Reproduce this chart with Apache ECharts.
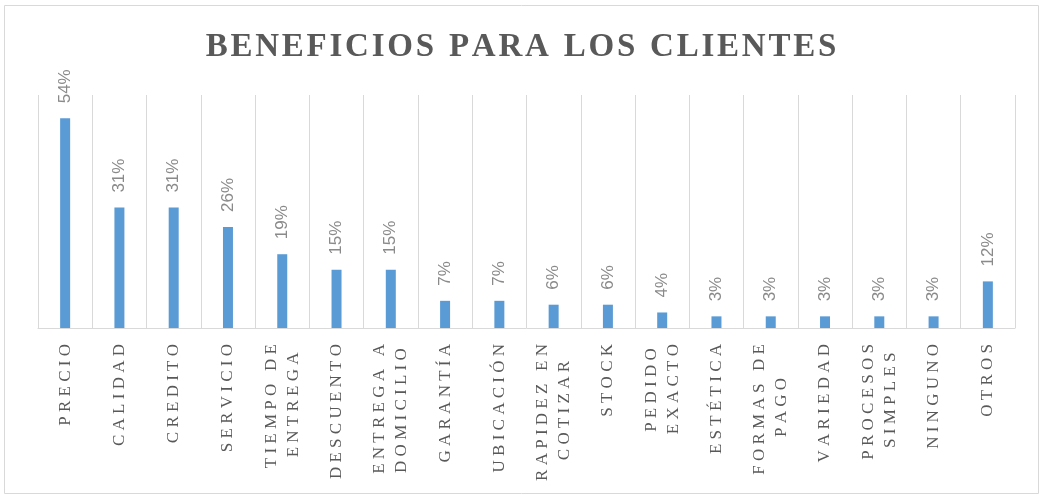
<!DOCTYPE html>
<html>
<head>
<meta charset="utf-8">
<script src="https://cdn.jsdelivr.net/npm/echarts@6/dist/echarts.min.js"></script>
<style>
  html, body { margin: 0; padding: 0; background: #fff; }
  #chart { width: 1042px; height: 496px; }
</style>
</head>
<body>
<div id="chart"></div>
<script>
let categories = [
  "PRECIO", "CALIDAD", "CREDITO", "SERVICIO", "TIEMPO DE\nENTREGA",
  "DESCUENTO", "ENTREGA A\nDOMICILIO", "GARANTÍA", "UBICACIÓN",
  "RAPIDEZ EN\nCOTIZAR", "STOCK", "PEDIDO\nEXACTO", "ESTÉTICA",
  "FORMAS DE\nPAGO", "VARIEDAD", "PROCESOS\nSIMPLES", "NINGUNO", "OTROS",
];
let values = [54, 31, 31, 26, 19, 15, 15, 7, 7, 6, 6, 4, 3, 3, 3, 3, 3, 12];
let title = "BENEFICIOS PARA LOS CLIENTES";

let labelFont = "17px 'Liberation Serif'";
let ctx = document.createElement("canvas").getContext("2d");
ctx.font = labelFont;

// letter spacing done with spaces, since zrender has no letterSpacing
let spaced = (s) =>
  s.split(" ").map((w) => w.split("").join(" ")).join("   ");

// center the lines of a two line label, right side stays on the axis
let formatLabel = (s) => {
  let lines = s.split("\n").map(spaced);
  if (lines.length < 2) return lines[0];
  let widths = lines.map((l) => ctx.measureText(l).width);
  let maxW = Math.max(...widths);
  let sp = ctx.measureText(" ").width;
  return lines
    .map((l, i) => l + " ".repeat(Math.round((maxW - widths[i]) / 2 / sp)))
    .join("\n");
};

let chart = echarts.init(document.getElementById("chart"));
chart.setOption({
  animation: false,
  title: {
    text: title.split(" ").map((w) => w.split("").join("\u200A")).join(" \u2009"),
    left: "center",
    top: 26,
    textStyle: {
      fontFamily: "Liberation Serif",
      fontWeight: "bold",
      fontSize: 33,
      color: "#595959",
    },
  },
  graphic: [
    {
      type: "rect",
      shape: { x: 4.5, y: 5.5, width: 1034, height: 488 },
      style: { fill: "none", stroke: "#d9d9d9", lineWidth: 1 },
      silent: true,
    },
  ],
  grid: { left: 38, right: 27, top: 95, bottom: 168 },
  xAxis: {
    type: "category",
    data: categories,
    axisLine: { lineStyle: { color: "#d9d9d9" } },
    axisTick: { show: false },
    splitLine: { show: true, lineStyle: { color: "#d9d9d9" } },
    axisLabel: {
      interval: 0,
      rotate: 90,
      margin: 16,
      lineHeight: 22,
      fontFamily: "Liberation Serif",
      fontSize: 17,
      color: "#595959",
      formatter: formatLabel,
    },
  },
  yAxis: {
    type: "value",
    min: 0,
    max: 60,
    show: false,
    splitLine: { show: false },
  },
  series: [
    {
      type: "bar",
      data: values,
      barWidth: 10,
      itemStyle: { color: "#5b9bd5" },
      label: {
        show: true,
        position: "top",
        rotate: 90,
        align: "left",
        verticalAlign: "middle",
        distance: 15,
        fontFamily: "Liberation Sans",
        fontSize: 17,
        color: "#8a8a8a",
        formatter: "{c}%",
      },
    },
  ],
});
</script>
</body>
</html>
